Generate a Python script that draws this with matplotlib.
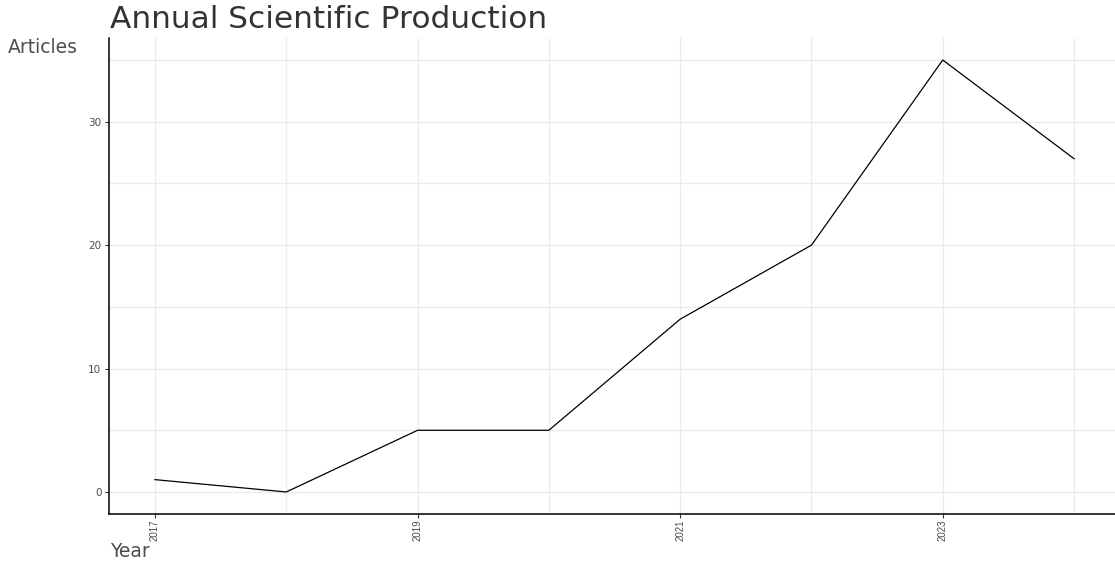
import matplotlib
matplotlib.use("Agg")
import matplotlib.pyplot as plt
from matplotlib.ticker import MultipleLocator

plt.rcParams['font.family'] = ['DejaVu Sans']

# data
years = [2017, 2018, 2019, 2020, 2021, 2022, 2023, 2024]
articles = [1, 0, 5, 5, 14, 20, 35, 27]
xticks = [2017, 2019, 2021, 2023]
yticks = [0, 10, 20, 30]

fig = plt.figure(figsize=(11.15, 5.64), dpi=100)
ax = fig.add_axes([0.0978, 0.0894, 0.9067, 0.8425])

ax.plot(years, articles, color='black', linewidth=0.9)

ax.set_xlim(2016.65, 2024.35)
ax.set_ylim(-1.75, 36.75)

ax.set_xticks(xticks)
ax.set_xticklabels([str(y) for y in xticks], rotation=90,
                   family='Liberation Sans', fontsize=7.0)
ax.xaxis.set_minor_locator(MultipleLocator(1))
ax.set_yticks(yticks)
ax.yaxis.set_minor_locator(MultipleLocator(5))

ax.grid(True, which='both', color='#ebebeb', linewidth=1.0)
ax.set_axisbelow(True)

for s in ['top', 'right']:
    ax.spines[s].set_visible(False)
for s in ['left', 'bottom']:
    ax.spines[s].set_color('black')
    ax.spines[s].set_linewidth(1.1)

ax.tick_params(axis='both', which='major', length=3, width=0.8, color='#333333',
               labelcolor='#4d4d4d', pad=2.5)
ax.tick_params(axis='x', pad=1.5)
ax.tick_params(axis='y', labelsize=7.5)
ax.tick_params(axis='both', which='minor', length=0)

fig.text(0.0987, 0.9504, 'Annual Scientific Production', fontsize=22.5,
         color='#333333', ha='left', va='baseline')
fig.text(0.007, 0.906, 'Articles', fontsize=13.5, color='#4d4d4d', ha='left', va='baseline')
fig.text(0.0987, 0.0124, 'Year', fontsize=13.5, color='#4d4d4d', ha='left', va='baseline')

fig.savefig('out.png', dpi=100)
